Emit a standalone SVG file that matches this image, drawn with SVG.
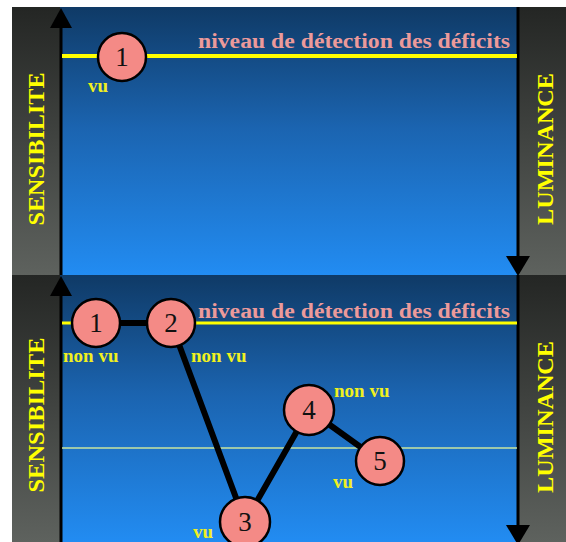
<svg xmlns="http://www.w3.org/2000/svg" width="566" height="542" viewBox="0 0 566 542">
<defs>
<linearGradient id="blue" x1="0" y1="0" x2="0" y2="1">
<stop offset="0" stop-color="#0f3a66"/>
<stop offset="0.45" stop-color="#1b64b0"/>
<stop offset="1" stop-color="#228cf2"/>
</linearGradient>
<linearGradient id="gray" x1="0" y1="0" x2="0" y2="1">
<stop offset="0" stop-color="#242624"/>
<stop offset="1" stop-color="#5e625e"/>
</linearGradient>
<style>
.axis{fill:#ffff00;font-family:"Liberation Serif",serif;font-weight:bold;font-size:24px}
.lvl{fill:#ec9a9a;font-family:"Liberation Serif",serif;font-weight:bold;font-size:20px}
.lab{fill:#f0f020;font-family:"Liberation Serif",serif;font-weight:bold;font-size:19px}
.node circle{fill:#f48a86;stroke:#000;stroke-width:2.5}
.node text{fill:#111;font-family:"Liberation Serif",serif;font-size:27px;text-anchor:middle}
.edge{stroke:#000;stroke-width:6;fill:none}
</style>
</defs>
<rect width="566" height="542" fill="#ffffff"/>
<rect x="12" y="7" width="554" height="268" fill="url(#blue)"/>
<rect x="12" y="7" width="48" height="268" fill="url(#gray)"/>
<rect x="519" y="7" width="47" height="268" fill="url(#gray)"/>
<rect x="12" y="275" width="554" height="267" fill="url(#blue)"/>
<rect x="12" y="275" width="48" height="267" fill="url(#gray)"/>
<rect x="519" y="275" width="47" height="267" fill="url(#gray)"/>
<g id="axes">
<line x1="61" y1="20" x2="61" y2="275" stroke="#000" stroke-width="3"/>
<polygon points="61,8 50,28 72,28" fill="#000"/>
<line x1="518" y1="7" x2="518" y2="262" stroke="#000" stroke-width="3"/>
<polygon points="518,276 506,256 530,256" fill="#000"/>
<line x1="61" y1="288" x2="61" y2="542" stroke="#000" stroke-width="3"/>
<polygon points="61,276 50,296 72,296" fill="#000"/>
<line x1="518" y1="275" x2="518" y2="530" stroke="#000" stroke-width="3"/>
<polygon points="518,545 506,525 530,525" fill="#000"/>
</g>
<g id="axis-labels">
<text class="axis" transform="translate(44,149) rotate(-90)" text-anchor="middle" textLength="153" lengthAdjust="spacingAndGlyphs">SENSIBILITE</text>
<text class="axis" transform="translate(553,149) rotate(-90)" text-anchor="middle" textLength="152" lengthAdjust="spacingAndGlyphs">LUMINANCE</text>
<text class="axis" transform="translate(44,415) rotate(-90)" text-anchor="middle" textLength="155" lengthAdjust="spacingAndGlyphs">SENSIBILITE</text>
<text class="axis" transform="translate(553,417) rotate(-90)" text-anchor="middle" textLength="152" lengthAdjust="spacingAndGlyphs">LUMINANCE</text>
</g>
<line x1="62" y1="56" x2="517" y2="56" stroke="#ffff00" stroke-width="4"/>
<text class="lvl" x="198" y="48" textLength="312" lengthAdjust="spacingAndGlyphs">niveau de détection des déficits</text>
<line x1="62" y1="323" x2="517" y2="323" stroke="#ffff00" stroke-width="3"/>
<text class="lvl" x="198" y="318" textLength="312" lengthAdjust="spacingAndGlyphs">niveau de détection des déficits</text>
<line x1="62" y1="448" x2="517" y2="448" stroke="#c8e6a0" stroke-width="1.5"/>
<g id="connectors">
<line class="edge" x1="96" y1="323" x2="171" y2="323"/>
<polyline class="edge" points="171,323 245,522 309,410 380,461"/>
</g>
<g id="top-node-1" class="node"><circle cx="122" cy="57" r="24"/><text x="122" y="66">1</text></g>
<text class="lab" x="88" y="92">vu</text>
<g id="node-1" class="node"><circle cx="96" cy="323" r="24"/><text x="96" y="332">1</text></g>
<g id="node-2" class="node"><circle cx="171" cy="323" r="24"/><text x="171" y="332">2</text></g>
<g id="node-3" class="node"><circle cx="245" cy="522" r="25"/><text x="245" y="531">3</text></g>
<g id="node-4" class="node"><circle cx="309" cy="410" r="25"/><text x="309" y="419">4</text></g>
<g id="node-5" class="node"><circle cx="380" cy="461" r="24"/><text x="380" y="470">5</text></g>
<text class="lab" x="63" y="362">non vu</text>
<text class="lab" x="191" y="362">non vu</text>
<text class="lab" x="334" y="397">non vu</text>
<text class="lab" x="333" y="488">vu</text>
<text class="lab" x="193" y="538">vu</text>
</svg>
